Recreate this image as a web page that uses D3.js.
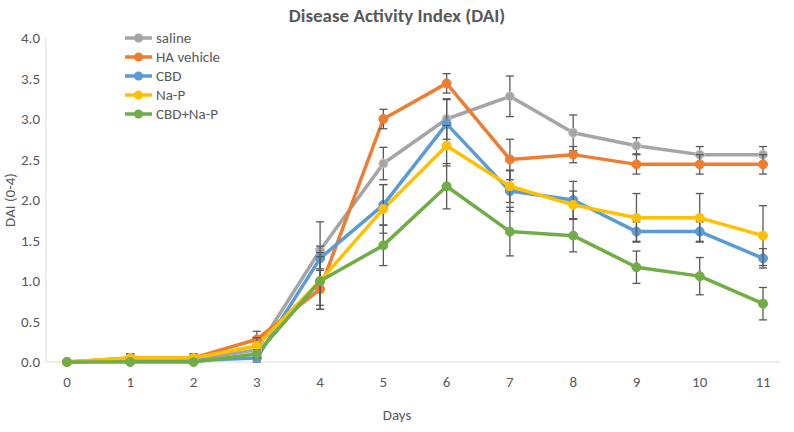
<!DOCTYPE html><html><head><script src="https://cdn.jsdelivr.net/npm/d3@7"></script>
<style>body{margin:0;background:#fff}text{font-family:Calibri,"Liberation Sans",Carlito,sans-serif}</style></head><body>
<svg id="c" width="794" height="432"></svg>
<script>
const days=[0,1,2,3,4,5,6,7,8,9,10,11];
const yTicks=[0,0.5,1,1.5,2,2.5,3,3.5,4];
const names=["saline","HA vehicle","CBD","Na-P","CBD+Na-P"];
const colors=["#a5a5a5","#ed7d31","#5b9bd5","#ffc000","#70ad47"];
const saline=[0,0.03,0.03,0.15,1.38,2.45,3.0,3.28,2.83,2.67,2.56,2.56];
const haVehicle=[0,0.05,0.05,0.28,0.9,3.0,3.44,2.5,2.56,2.44,2.44,2.44];
const cbd=[0,0.02,0.02,0.05,1.28,1.94,2.94,2.11,2.0,1.61,1.61,1.28];
const naP=[0,0.05,0.05,0.2,1.0,1.89,2.67,2.17,1.94,1.78,1.78,1.56];
const cbdNaP=[0,0,0,0.1,1.0,1.44,2.17,1.61,1.56,1.17,1.06,0.72];
const errSaline=[0,0.05,0.05,0.1,0.35,0.2,0.25,0.25,0.22,0.1,0.1,0.1];
const errHA=[0,0.05,0.05,0.1,0.25,0.12,0.12,0.25,0.1,0.12,0.12,0.12];
const errCBD=[0,0,0,0.05,0.15,0.25,0.3,0.25,0.23,0.12,0.12,0.12];
const errNaP=[0,0.05,0.05,0.1,0.3,0.3,0.25,0.2,0.17,0.3,0.3,0.37];
const errCbdNaP=[0,0,0,0.05,0.35,0.25,0.28,0.3,0.2,0.2,0.23,0.2];
const series=[saline,haVehicle,cbd,naP,cbdNaP];
const errs=[errSaline,errHA,errCBD,errNaP,errCbdNaP];
const svg=d3.select("#c");
const x=d3.scaleLinear().domain([0,11]).range([67,763]);
const y=d3.scaleLinear().domain([0,4]).range([362,38]);
svg.append("text").attr("x",397).attr("y",22).attr("text-anchor","middle").attr("font-size",19).attr("font-weight","bold").attr("fill","#595959").text("Disease Activity Index (DAI)");
svg.append("line").attr("x1",46).attr("x2",780).attr("y1",y(0)).attr("y2",y(0)).attr("stroke","#d9d9d9");
svg.append("line").attr("x1",46).attr("x2",46).attr("y1",y(0)).attr("y2",y(4)).attr("stroke","#d9d9d9");
yTicks.forEach(t=>svg.append("text").attr("x",40).attr("y",y(t)+5).attr("text-anchor","end").attr("font-size",15).attr("fill","#595959").text(t.toFixed(1)));
days.forEach(d=>svg.append("text").attr("x",x(d)).attr("y",387).attr("text-anchor","middle").attr("font-size",15).attr("fill","#595959").text(d));
svg.append("text").attr("x",397).attr("y",420).attr("text-anchor","middle").attr("font-size",15).attr("fill","#595959").text("Days");
svg.append("text").attr("transform","translate(15,200) rotate(-90)").attr("text-anchor","middle").attr("font-size",15).attr("fill","#595959").text("DAI (0-4)");
const line=d3.line().x((d,i)=>x(days[i])).y(d=>y(d));
series.forEach((s,k)=>{
  svg.append("path").attr("d",line(s)).attr("fill","none").attr("stroke",colors[k]).attr("stroke-width",3.5).attr("stroke-linejoin","round");
});
series.forEach((s,k)=>{
  s.forEach((v,i)=>{const e=errs[k][i];if(!e)return;const cx=x(days[i]);
    const g=svg.append("g").attr("stroke","#595959").attr("stroke-width",1.3);
    g.append("line").attr("x1",cx).attr("x2",cx).attr("y1",y(v-e)).attr("y2",y(v+e));
    [v-e,v+e].forEach(u=>g.append("line").attr("x1",cx-4).attr("x2",cx+4).attr("y1",y(u)).attr("y2",y(u)));
  });
  svg.selectAll(null).data(s).enter().append("circle").attr("cx",(d,i)=>x(days[i])).attr("cy",d=>y(d)).attr("r",4.5).attr("fill",colors[k]).attr("stroke",k==0?"#c8c8c8":colors[k]);
});
names.forEach((n,k)=>{const ly=38+k*19;
  svg.append("line").attr("x1",125).attr("x2",152).attr("y1",ly).attr("y2",ly).attr("stroke",colors[k]).attr("stroke-width",3.5);
  svg.append("circle").attr("cx",138.5).attr("cy",ly).attr("r",4.5).attr("fill",colors[k]);
  svg.append("text").attr("x",156).attr("y",ly+5).attr("font-size",15).attr("fill","#595959").text(n);
});
</script></body></html>
